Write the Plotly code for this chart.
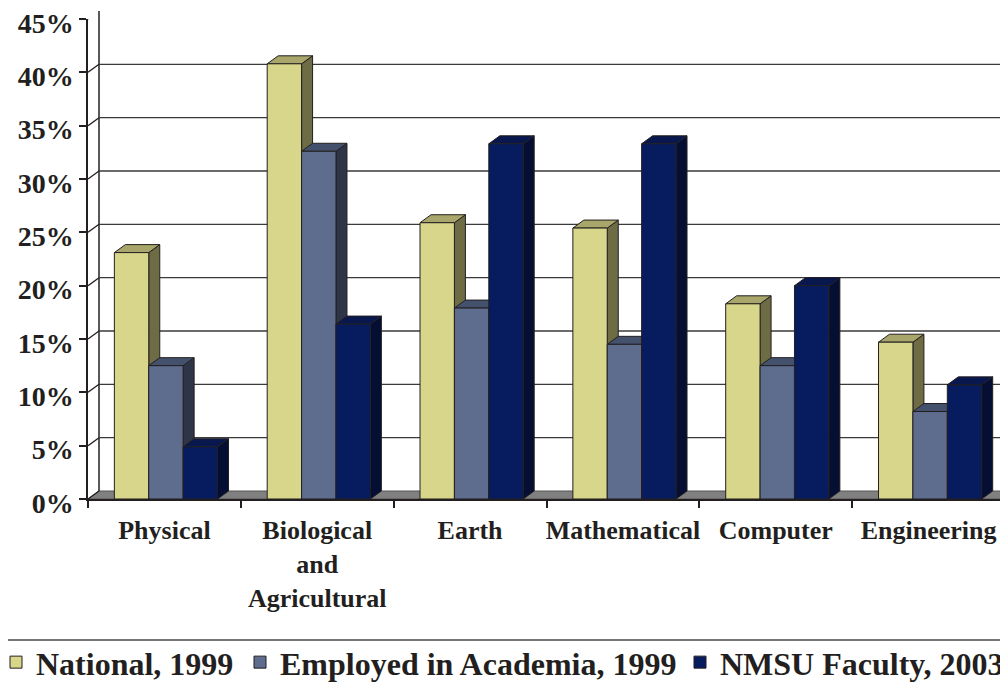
import plotly.graph_objects as go

# ---------------- data ----------------
categories = ["Physical", "Biological<br>and<br>Agricultural", "Earth",
              "Mathematical", "Computer", "Engineering"]
series_names = ["National, 1999", "Employed in Academia, 1999", "NMSU Faculty, 2003"]
national = [23.1, 40.8, 25.9, 25.4, 18.3, 14.7]
employed = [12.5, 32.6, 17.9, 14.5, 12.5, 8.2]
nmsu = [4.9, 16.4, 33.3, 33.3, 20.0, 10.7]
y_ticks = [0, 5, 10, 15, 20, 25, 30, 35, 40, 45]
y_tick_labels = ["0%", "5%", "10%", "15%", "20%", "25%", "30%", "35%", "40%", "45%"]

# ---------------- styling ----------------
front_colors = ["#D8D68A", "#5E6C8E", "#071C5E"]
top_colors = ["#A8A66A", "#44516D", "#08184F"]
side_colors = ["#6E6C45", "#2D3546", "#040F33"]
edge = "#231F20"
txt = "#231F20"
FONT = "Liberation Serif"

OFF = 8                    # page body margin
W, H = 1008 - OFF, 685 - OFF
ML, MT = 88 - OFF, 19 - OFF
PW, PH = 917, 480
MR, MB = W - ML - PW, H - MT - PH
DX, DY = 11, 8             # 3-D depth in pixels
YMAX = 45
NCAT = len(categories)
BW = 0.225                 # bar width in category units

ddx = DX * NCAT / PW       # depth converted to data units
ddy = DY * YMAX / PH

series = [national, employed, nmsu]
legend_ids = ["legend", "legend2", "legend3"]
legend_left_px = [-4, 240, 680]   # left edge of each legend entry (page pixels)

fig = go.Figure()

# side + top faces (behind front plane) on main axes
for i in range(NCAT):
    for j, vals in enumerate(series):
        v = vals[i]
        L = i + (j - 1) * BW - BW / 2 + 0.01
        R = L + BW
        side_x = [R, R, R + ddx, R + ddx, R]
        side_y = [0, v, v + ddy, ddy, 0]
        fig.add_trace(go.Scatter(x=side_x, y=side_y, fill="toself", mode="lines",
                                 fillcolor=side_colors[j], line=dict(color=edge, width=1),
                                 showlegend=False, hoverinfo="skip"))
        top_x = [L, R, R + ddx, L + ddx, L]
        top_y = [v, v, v + ddy, v + ddy, v]
        fig.add_trace(go.Scatter(x=top_x, y=top_y, fill="toself", mode="lines",
                                 fillcolor=top_colors[j], line=dict(color=edge, width=1),
                                 showlegend=False, hoverinfo="skip"))

# front faces: real bar traces on overlay axes (drawn above faces)
for j, vals in enumerate(series):
    xs = [i + (j - 1) * BW + 0.01 for i in range(NCAT)]
    fig.add_trace(go.Bar(x=xs, y=vals, width=BW, name=series_names[j],
                         marker=dict(color=front_colors[j], line=dict(color=edge, width=1)),
                         xaxis="x2", yaxis="y2", legend=legend_ids[j]))

shapes = []
# floor
shapes.append(dict(type="path", xref="paper", yref="paper", layer="below",
                   path=f"M 0,0 L 1,0 L {1 + DX / PW},{DY / PH} L {DX / PW},{DY / PH} Z",
                   fillcolor="#808080", line=dict(color="#555555", width=1)))
# back wall left edge
shapes.append(dict(type="line", xref="paper", yref="paper", layer="below",
                   x0=DX / PW, x1=DX / PW, y0=DY / PH, y1=1 + DY / PH,
                   line=dict(color=edge, width=1.5)))
# back wall gridlines and side wall diagonals
for v in y_ticks:
    if v > 0:
        shapes.append(dict(type="line", xref="paper", yref="y", layer="below",
                           ysizemode="pixel", yanchor=v, y0=DY, y1=DY,
                           x0=DX / PW, x1=1 + 2 * DX / PW,
                           line=dict(color="#3A3A3A", width=1.3)))
    shapes.append(dict(type="line", xref="paper", yref="y", layer="below",
                       ysizemode="pixel", yanchor=v, y0=0, y1=DY,
                       x0=0, x1=DX / PW, line=dict(color=edge, width=1.3)))
# legend separator line (reference y = 640 px)
sep_y = (PH - (640 - OFF - MT)) / PH
shapes.append(dict(type="line", xref="paper", yref="paper",
                   x0=-(ML + OFF) / PW, x1=(W - ML) / PW, y0=sep_y, y1=sep_y,
                   line=dict(color="#777777", width=2)))

legend_common = dict(orientation="h", xanchor="left", y=-0.283, yanchor="top",
                     font=dict(family=FONT, size=32, color=txt, weight="bold"),
                     bgcolor="rgba(0,0,0,0)", itemclick=False, itemdoubleclick=False)
legends = {}
for lid, lx in zip(legend_ids, legend_left_px):
    legends[lid] = dict(legend_common, x=(lx - OFF - ML) / PW)

xr = [-0.5, NCAT - 0.5]
fig.update_layout(
    template="none",
    width=W, height=H,
    margin=dict(l=ML, r=MR, t=MT, b=MB, autoexpand=False),
    paper_bgcolor="white", plot_bgcolor="white",
    font=dict(family=FONT, color=txt),
    barmode="overlay",
    shapes=shapes,
    xaxis=dict(range=xr, tickvals=list(range(NCAT)), ticktext=categories,
               ticks="outside", ticklen=7, tickcolor="rgba(0,0,0,0)", automargin=False,
               tickfont=dict(family=FONT, size=26, color=txt, weight="bold"),
               showline=True, linecolor=edge, linewidth=1.5, ticklabeloverflow="allow",
               showgrid=False, zeroline=False, fixedrange=True,
               minor=dict(tickvals=[k - 0.5 for k in range(NCAT + 1)], ticks="outside",
                          ticklen=7, tickcolor=edge, tickwidth=1.5, showgrid=False)),
    yaxis=dict(range=[0, YMAX], tickvals=y_ticks, ticktext=y_tick_labels,
               ticks="outside", ticklen=7, tickcolor=edge, tickwidth=1.5, automargin=False,
               tickfont=dict(family=FONT, size=28, color=txt, weight="bold"),
               showline=True, linecolor=edge, linewidth=1.5, ticklabeloverflow="allow",
               showgrid=False, zeroline=False, fixedrange=True, ticklabelstandoff=0,
               ticklabelshift=4),
    xaxis2=dict(range=xr, overlaying="x", visible=False, fixedrange=True, automargin=False),
    yaxis2=dict(range=[0, YMAX], overlaying="y", visible=False, fixedrange=True, automargin=False),
    showlegend=True,
    **legends,
)

fig.write_html("out.html")
